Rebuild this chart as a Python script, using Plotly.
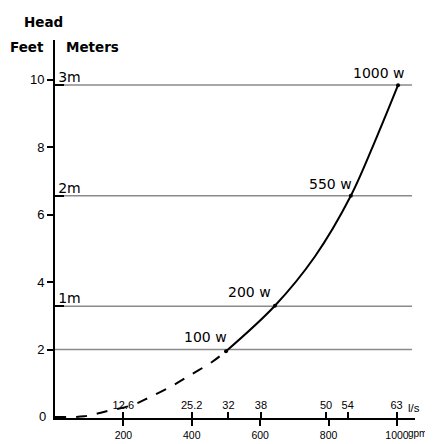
import plotly.graph_objects as go

# ---- data ----
feet_ticks = [0, 2, 4, 6, 8, 10]
meter_ticks = [1, 2, 3]
meter_labels = ["1m", "2m", "3m"]
gpm_ticks = [200, 400, 600, 800, 1000]
gpm_labels = ["200", "400", "600", "800", "1000"]
ls_ticks = [12.6, 25.2, 32, 38, 50, 54, 63]
ls_labels = ["12.6", "25.2", "32", "38", "50", "54", "63"]

# solid curve (pump curve), gpm vs head in feet
solid_gpm = [500, 643, 760, 865, 941, 1003]
solid_ft = [1.95, 3.3, 4.76, 6.56, 8.31, 9.84]
# rated points
watt_gpm = [500, 643, 865, 1003]
watt_ft = [1.95, 3.3, 6.56, 9.84]
watt_labels = ["100 w", "200 w", "550 w", "1000 w"]
# dashed extension
dash_gpm = [0, 85, 155, 228, 278, 342, 400, 459, 500]
dash_ft = [0, 0.02, 0.18, 0.36, 0.59, 0.92, 1.27, 1.63, 1.95]

FT_PER_M = 3.2808
GPM_PER_LS = 15.85
X_MAX = 1052.6
Y_MIN = -0.03
Y_MAX = 11.18
LINE_END = 1044

f_arial = "Liberation Sans, Arial, sans-serif"
f_wide = "DejaVu Sans, Verdana, sans-serif"

fig = go.Figure()

# horizontal reference lines: 2 ft and the meter levels
ref_levels = [2] + [m * FT_PER_M for m in meter_ticks]
for lv in ref_levels:
    fig.add_trace(go.Scatter(x=[0, LINE_END], y=[lv, lv], mode="lines",
                             line=dict(color="#8a8a8a", width=1.5),
                             hoverinfo="skip", showlegend=False))

fig.add_trace(go.Scatter(x=dash_gpm, y=dash_ft, mode="lines",
                         line=dict(color="black", width=2, dash="11px,10px", shape="spline"),
                         showlegend=False))
fig.add_trace(go.Scatter(x=solid_gpm, y=solid_ft, mode="lines",
                         line=dict(color="black", width=2, shape="spline"),
                         showlegend=False))
fig.add_trace(go.Scatter(x=watt_gpm, y=watt_ft, mode="markers",
                         marker=dict(color="black", size=4),
                         showlegend=False))

# invisible traces to activate the l/s and meters axes
fig.add_trace(go.Scatter(x=[0], y=[0], xaxis="x2", yaxis="y", mode="markers",
                         marker=dict(opacity=0), showlegend=False, hoverinfo="skip"))
fig.add_trace(go.Scatter(x=[0], y=[0], xaxis="x", yaxis="y2", mode="markers",
                         marker=dict(opacity=0), showlegend=False, hoverinfo="skip"))

shifts = [(3, 4), (-2, 4), (3, 2), (9, 2)]
for gx, fy, lab, (dx, dy) in zip(watt_gpm, watt_ft, watt_labels, shifts):
    fig.add_annotation(x=gx, y=fy, text=lab, showarrow=False, xanchor="right",
                       yanchor="bottom", xshift=dx, yshift=dy,
                       font=dict(family=f_wide, size=14, color="black"))

# the page body adds an 8px offset, so the figure is 8px smaller in each direction
fig.update_layout(
    template="none",
    width=425, height=436,
    margin=dict(l=47, r=18, t=32, b=26),
    paper_bgcolor="white", plot_bgcolor="white",
    showlegend=False,
    xaxis=dict(range=[0, X_MAX], tickvals=gpm_ticks, ticktext=gpm_labels,
               ticks="outside", ticklen=6, tickwidth=1.5, tickcolor="black",
               showline=True, linecolor="black", linewidth=2, showgrid=False,
               zeroline=False, automargin=False,
               tickfont=dict(family=f_arial, size=10.5, color="black")),
    xaxis2=dict(range=[0, X_MAX / GPM_PER_LS], overlaying="x", side="bottom",
                tickvals=ls_ticks, ticktext=ls_labels, ticks="inside", ticklen=6,
                tickwidth=1.5, tickcolor="black", ticklabelposition="inside",
                showline=False, showgrid=False, zeroline=False, automargin=False,
                tickfont=dict(family=f_arial, size=11, color="black")),
    yaxis=dict(range=[Y_MIN, Y_MAX], tickvals=feet_ticks, ticks="outside", ticklen=6,
               tickwidth=1.5, tickcolor="black", showline=True, linecolor="black",
               linewidth=2, showgrid=False, zeroline=False, automargin=False,
               tickfont=dict(family=f_arial, size=13, color="black")),
    yaxis2=dict(range=[Y_MIN / FT_PER_M, Y_MAX / FT_PER_M], overlaying="y", side="left",
                tickvals=meter_ticks, ticktext=meter_labels, ticks="inside",
                ticklen=9, tickwidth=1.5, tickcolor="black",
                ticklabelposition="inside", ticklabelshift=-8, ticklabelstandoff=-6,
                showline=False, showgrid=False, zeroline=False, automargin=False,
                tickfont=dict(family=f_wide, size=14, color="black")),
)

# the 0 feet label (plotly hides it where the axes cross)
fig.add_annotation(xref="paper", yref="y", x=0, y=feet_ticks[0], text=str(feet_ticks[0]),
                   showarrow=False, xanchor="right", yanchor="middle", xshift=-7,
                   font=dict(family=f_arial, size=13, color="black"))

hdr_font = dict(family=f_wide, size=13.5, color="black", weight="bold")
fig.add_annotation(xref="paper", yref="paper", x=-0.031, y=1.048, text="Head",
                   showarrow=False, xanchor="center", yanchor="middle", font=hdr_font)
fig.add_annotation(xref="paper", yref="paper", x=-0.079, y=0.981, text="Feet",
                   showarrow=False, xanchor="center", yanchor="middle", font=hdr_font)
fig.add_annotation(xref="paper", yref="paper", x=0.104, y=0.981, text="Meters",
                   showarrow=False, xanchor="center", yanchor="middle", font=hdr_font)
fig.add_annotation(xref="paper", yref="paper", x=1.008, y=-0.042, text="gpm",
                   showarrow=False, xanchor="center", yanchor="middle",
                   font=dict(family=f_arial, size=10, color="black"))
fig.add_annotation(xref="paper", yref="paper", x=0.996, y=0.026, text="l/s",
                   showarrow=False, xanchor="center", yanchor="middle",
                   font=dict(family=f_arial, size=11.5, color="black"))

fig.write_html("out.html")
